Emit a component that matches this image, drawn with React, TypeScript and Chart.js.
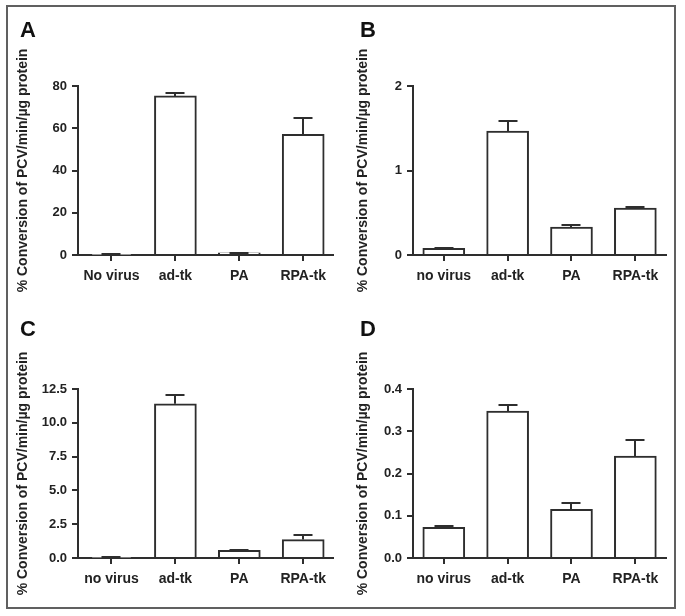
import React, { useEffect, useRef } from 'react';
import { Chart, registerables } from 'chart.js';

Chart.register(...registerables);

// ---------- data ----------
const categoriesA = ['No virus', 'ad-tk', 'PA', 'RPA-tk'];
const categoriesB = ['no virus', 'ad-tk', 'PA', 'RPA-tk'];
const categoriesC = ['no virus', 'ad-tk', 'PA', 'RPA-tk'];
const categoriesD = ['no virus', 'ad-tk', 'PA', 'RPA-tk'];

const valuesA = [0.2, 75.3, 1.0, 57.1];
const errorsA = [0.05, 1.6, 0.15, 7.9];

const valuesB = [0.078, 1.466, 0.331, 0.554];
const errorsB = [0.004, 0.117, 0.028, 0.015];

const valuesC = [0.05, 11.4, 0.56, 1.36];
const errorsC = [0.02, 0.66, 0.05, 0.35];

const valuesD = [0.0725, 0.348, 0.1154, 0.241];
const errorsD = [0.004, 0.013, 0.015, 0.038];

const yMaxA = 80, yStepA = 20;
const yMaxB = 2, yStepB = 1;
const yMaxC = 12.5, yStepC = 2.5;
const yMaxD = 0.4, yStepD = 0.1;

const yTitle = '% Conversion of PCV/min/\u00B5g protein';

// ---------- layout ----------
type PanelCfg = {
  letter: string;
  categories: string[];
  values: number[];
  errors: number[];
  yMax: number;
  yStep: number;
  decimals: number;
  left: number;
  top: number;
  width: number;
  height: number;
  axisX: number;
  plotTop: number;
  plotBottom: number;
  plotRight: number;
  xMin: number;
  xMax: number;
  letterY: number;
};

const panels: PanelCfg[] = [
  { letter: 'A', categories: categoriesA, values: valuesA, errors: errorsA, yMax: yMaxA, yStep: yStepA, decimals: 0,
    left: 0, top: 0, width: 340, height: 303, axisX: 78, plotTop: 86, plotBottom: 255, plotRight: 333,
    xMin: -0.524, xMax: 3.466, letterY: 37 },
  { letter: 'B', categories: categoriesB, values: valuesB, errors: errorsB, yMax: yMaxB, yStep: yStepB, decimals: 0,
    left: 340, top: 0, width: 340, height: 303, axisX: 73, plotTop: 86, plotBottom: 255, plotRight: 326,
    xMin: -0.482, xMax: 3.48, letterY: 37 },
  { letter: 'C', categories: categoriesC, values: valuesC, errors: errorsC, yMax: yMaxC, yStep: yStepC, decimals: 1,
    left: 0, top: 303, width: 340, height: 313, axisX: 78, plotTop: 86, plotBottom: 255, plotRight: 333,
    xMin: -0.524, xMax: 3.466, letterY: 33 },
  { letter: 'D', categories: categoriesD, values: valuesD, errors: errorsD, yMax: yMaxD, yStep: yStepD, decimals: 1,
    left: 340, top: 303, width: 340, height: 313, axisX: 73, plotTop: 86, plotBottom: 255, plotRight: 326,
    xMin: -0.482, xMax: 3.48, letterY: 33 },
];

const FONT = '"Liberation Sans", Arial, Helvetica, sans-serif';
const INK = '#222222';
const LINE = '#2e2e2e';

const errorBarPlugin = {
  id: 'errorBars',
  afterDatasetsDraw(chart: any, _args: any, opts: any) {
    const { ctx } = chart;
    const x = chart.scales.x;
    const y = chart.scales.y;
    const vals: number[] = opts.values || [];
    const errs: number[] = opts.errors || [];
    ctx.save();
    ctx.strokeStyle = LINE;
    ctx.lineWidth = 2;
    vals.forEach((v, i) => {
      const px = Math.round(x.getPixelForValue(i));
      const y0 = y.getPixelForValue(v);
      const y1 = Math.round(y.getPixelForValue(v + errs[i]));
      ctx.beginPath();
      ctx.moveTo(px, y0);
      ctx.lineTo(px, y1);
      ctx.moveTo(px - 9.5, y1);
      ctx.lineTo(px + 9.5, y1);
      ctx.stroke();
    });
    ctx.restore();
  },
};

const letterPlugin = {
  id: 'panelLetter',
  afterDraw(chart: any, _args: any, opts: any) {
    const { ctx } = chart;
    ctx.save();
    ctx.fillStyle = '#111';
    ctx.font = `bold 22px ${FONT}`;
    ctx.textAlign = 'left';
    ctx.textBaseline = 'alphabetic';
    ctx.fillText(opts.letter, 20, opts.y);
    ctx.restore();
  },
};

function Panel({ cfg }: { cfg: PanelCfg }) {
  const ref = useRef<HTMLCanvasElement | null>(null);
  useEffect(() => {
    if (!ref.current) return;
    const chart = new Chart(ref.current, {
      type: 'bar',
      data: {
        datasets: [
          {
            data: cfg.values.map((v, i) => ({ x: i, y: v })),
            backgroundColor: '#ffffff',
            borderColor: LINE,
            borderWidth: 2,
            barThickness: 42,
          },
        ],
      },
      plugins: [errorBarPlugin, letterPlugin],
      options: {
        responsive: false,
        animation: false,
        devicePixelRatio: 1,
        layout: {
          padding: {
            left: 0,
            top: cfg.plotTop,
            right: cfg.width - cfg.plotRight,
            bottom: 0,
          },
        },
        plugins: {
          legend: { display: false },
          tooltip: { enabled: false },
          errorBars: { values: cfg.values, errors: cfg.errors },
          panelLetter: { letter: cfg.letter, y: cfg.letterY },
        } as any,
        scales: {
          x: {
            type: 'linear',
            min: cfg.xMin,
            max: cfg.xMax,
            offset: false,
            afterBuildTicks: (s: any) => {
              s.ticks = cfg.categories.map((_, i) => ({ value: i }));
            },
            afterFit: (s: any) => {
              s.height = cfg.height - cfg.plotBottom;
            },
            ticks: {
              autoSkip: false,
              maxRotation: 0,
              padding: 7,
              color: INK,
              font: { family: FONT, size: 14, weight: 'bold' },
              callback: (v: any) => cfg.categories[Math.round(Number(v))] ?? '',
            },
            grid: {
              offset: false,
              drawOnChartArea: false,
              drawTicks: true,
              tickLength: 6,
              color: LINE,
              lineWidth: 2,
            },
            border: { display: true, color: LINE, width: 2 },
          },
          y: {
            type: 'linear',
            min: 0,
            max: cfg.yMax,
            afterFit: (s: any) => {
              s.width = cfg.axisX;
            },
            ticks: {
              stepSize: cfg.yStep,
              padding: 5,
              color: INK,
              font: { family: FONT, size: 13, weight: 'bold' },
              callback: (v: any) => Number(v).toFixed(cfg.decimals),
            },
            grid: {
              drawOnChartArea: false,
              drawTicks: true,
              tickLength: 6,
              color: LINE,
              lineWidth: 2,
            },
            border: { display: true, color: LINE, width: 2 },
            title: {
              display: true,
              text: yTitle,
              color: INK,
              font: { family: FONT, size: 14, weight: 'bold' },
              padding: { top: 15, bottom: 0 },
            },
          },
        },
      } as any,
    });
    return () => chart.destroy();
  }, [cfg]);
  return (
    <canvas
      ref={ref}
      width={cfg.width}
      height={cfg.height}
      style={{
        position: 'absolute',
        left: cfg.left,
        top: cfg.top,
        width: cfg.width,
        height: cfg.height,
        display: 'block',
      }}
    />
  );
}

export default function App() {
  return (
    <div
      style={{
        position: 'fixed',
        left: 0,
        top: 0,
        width: 685,
        height: 616,
        background: '#ffffff',
        overflow: 'hidden',
      }}
    >
      <div
        style={{
          position: 'absolute',
          left: 6,
          top: 5,
          width: 670,
          height: 604,
          boxSizing: 'border-box',
          border: '2px solid #606060',
        }}
      />
      {panels.map((p) => (
        <Panel key={p.letter} cfg={p} />
      ))}
    </div>
  );
}
